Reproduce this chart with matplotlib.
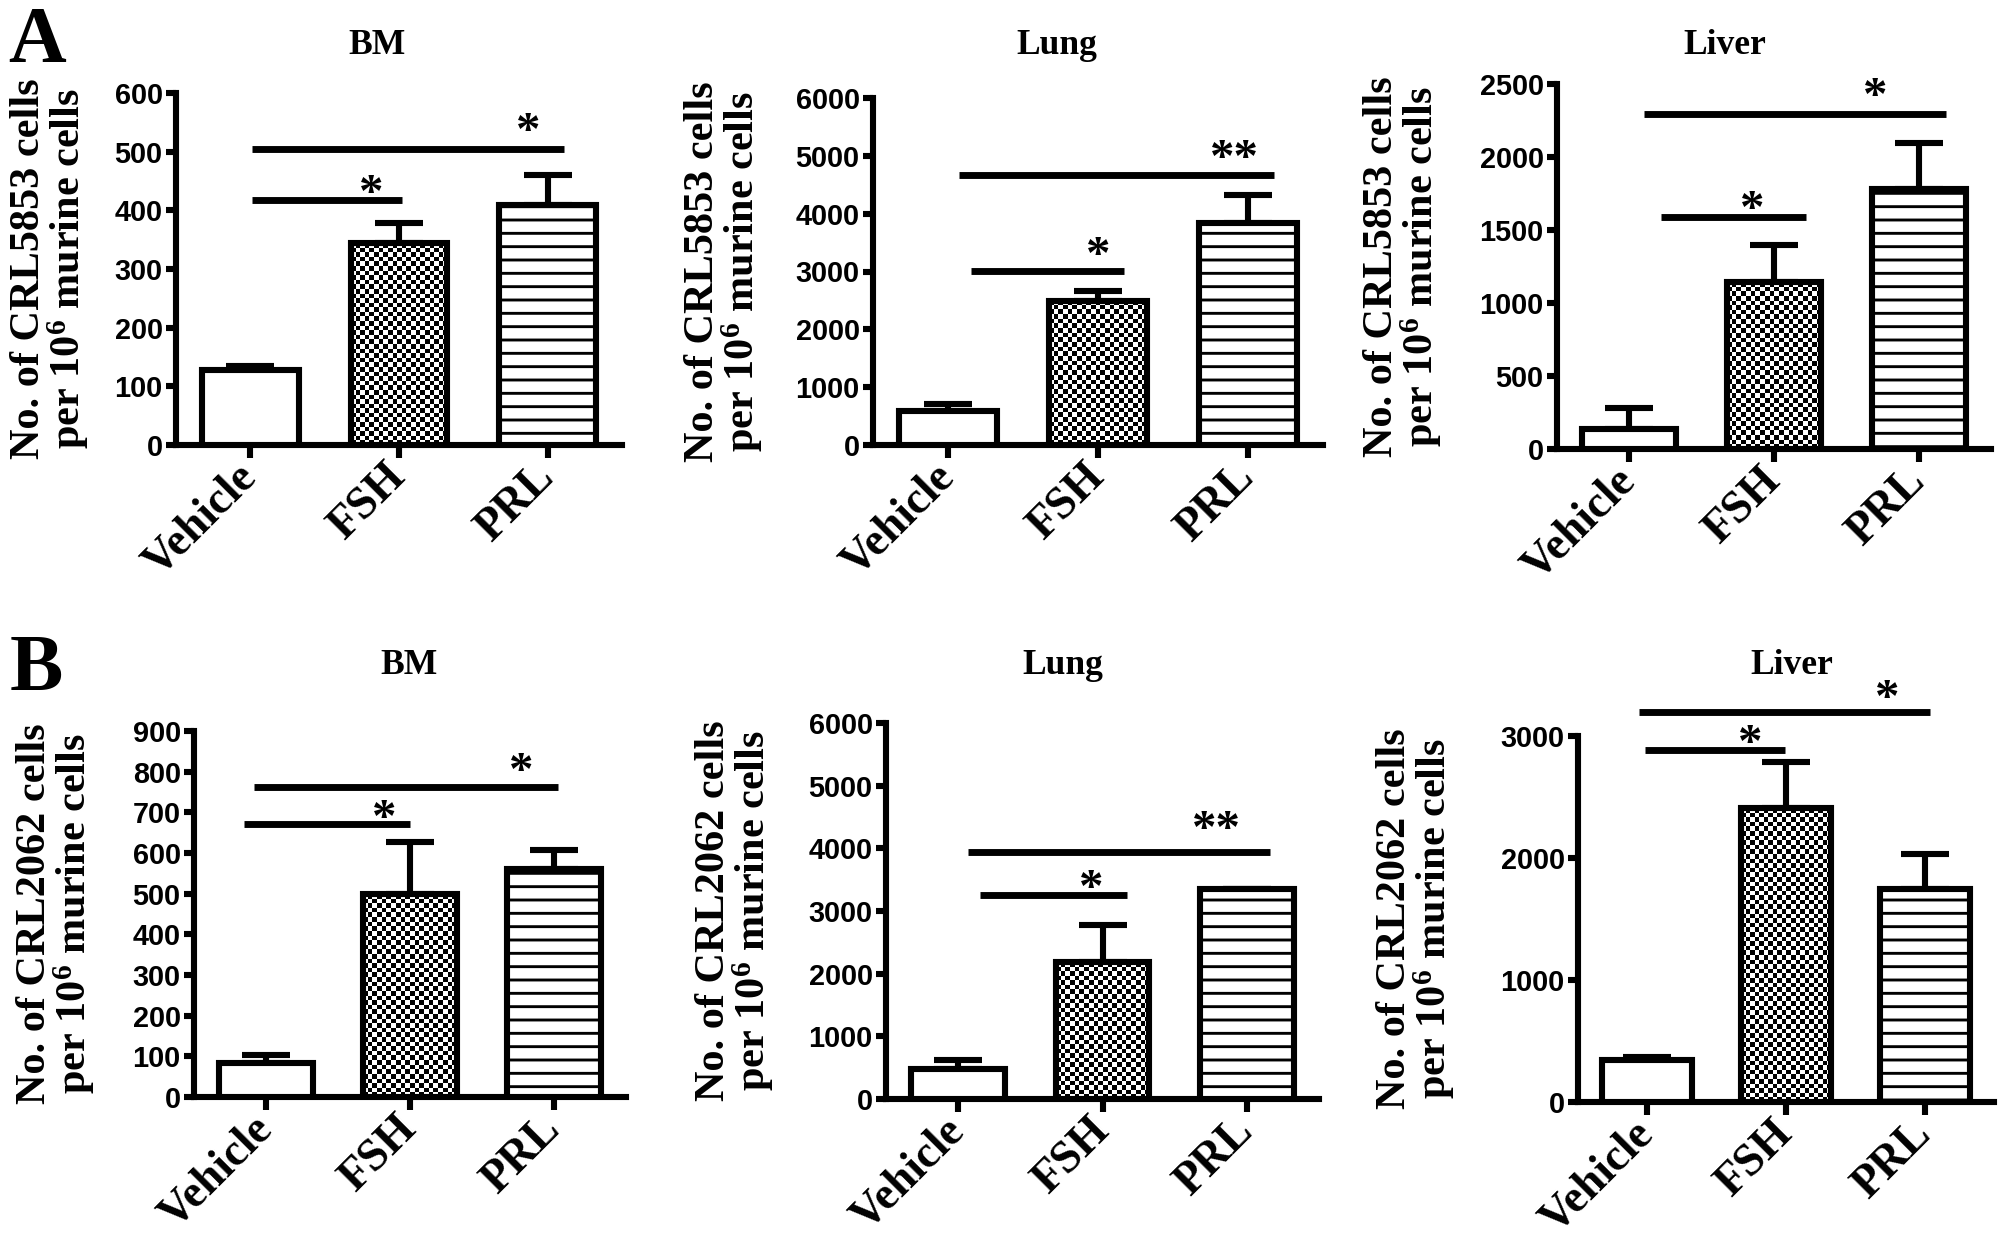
import numpy as np
import matplotlib
matplotlib.use('Agg')
import matplotlib.pyplot as plt

groups = ['Vehicle', 'FSH', 'PRL']

# panel A: CRL5853
a_bm_mean = [127, 344, 409]
a_bm_err = [7, 34, 52]
a_lung_mean = [587, 2493, 3846]
a_lung_err = [115, 173, 472]
a_liver_mean = [140, 1143, 1782]
a_liver_err = [142, 251, 317]

# panel B: CRL2062
b_bm_mean = [83, 499, 561]
b_bm_err = [20, 127, 46]
b_lung_mean = [476, 2183, 3352]
b_lung_err = [143, 588, 0]
b_liver_mean = [342, 2408, 1743]
b_liver_err = [26, 381, 288]

# significance bars: (x start, x end, y)
a_bm_sig = [(0.01, 1.02, 418), (0.01, 2.11, 505)]
a_lung_sig = [(0.15, 1.17, 3005), (0.07, 2.17, 4664)]
a_liver_sig = [(0.22, 1.22, 1589), (0.10, 2.19, 2297)]
b_bm_sig = [(-0.15, 1.00, 672), (-0.08, 2.03, 763)]
b_lung_sig = [(0.15, 1.17, 3260), (0.07, 2.16, 3946)]
b_liver_sig = [(-0.02, 0.99, 2885), (-0.06, 2.04, 3198)]

# stars: (x, y centre, text)
a_bm_stars = [(0.81, 446, '*'), (1.87, 551, '*')]
a_lung_stars = [(1.00, 3455, '*'), (1.91, 5125, '**')]
a_liver_stars = [(0.85, 1711, '*'), (1.70, 2481, '*')]
b_bm_stars = [(0.82, 710, '*'), (1.77, 825, '*')]
b_lung_stars = [(0.92, 3526, '*'), (1.79, 4454, '**')]
b_liver_stars = [(0.74, 3022, '*'), (1.73, 3390, '*')]

W, H, DPI = 2004, 1240, 80
plt.rcParams['font.family'] = ['Liberation Sans Narrow', 'Liberation Sans']
plt.rcParams['font.weight'] = 'bold'
plt.rcParams['mathtext.fontset'] = 'custom'
plt.rcParams['mathtext.rm'] = 'Liberation Serif:bold'
plt.rcParams['mathtext.bf'] = 'Liberation Serif:bold'
plt.rcParams['mathtext.it'] = 'Liberation Serif:bold'
plt.rcParams['mathtext.default'] = 'rm'
plt.rcParams['hatch.linewidth'] = 2.6
SERIF = 'Liberation Serif'
LW = 5.5
STAR = 44

fig = plt.figure(figsize=(W / DPI, H / DPI), dpi=DPI)


def panel(left, right, zero, top, means, errs, ymax, ystep, sig, stars):
    ax = fig.add_axes([left / W, 1 - zero / H, (right - left) / W, (zero - top) / H])
    x = np.arange(3)
    bars = ax.bar(x, means, width=0.65, facecolor='white', edgecolor='black',
                  linewidth=LW, zorder=3)
    bars[2].set_hatch('-')
    # checkerboard fill for FSH
    r = bars[1]
    bw_px = 0.65 * (right - left) / 3
    bh_px = means[1] / ymax * (zero - top)
    nx = max(1, int(round(bw_px / 4.6)))
    ny = max(1, int(round(bh_px / 4.6)))
    arr = np.indices((ny, nx)).sum(axis=0) % 2
    im = ax.imshow(arr, cmap='gray', extent=(r.get_x(), r.get_x() + r.get_width(), 0, r.get_height()),
                   origin='lower', interpolation='nearest', aspect='auto', zorder=2.9)
    im.set_clip_path(r)
    r.set_facecolor('none')
    ax.errorbar(x, means, yerr=[np.zeros(3), errs], fmt='none', ecolor='black',
                elinewidth=LW, capsize=22, capthick=LW, zorder=2)
    for x0, x1, y in sig:
        ax.plot([x0, x1], [y, y], color='black', lw=6.2, solid_capstyle='butt', clip_on=False)
    for sx, sy, s in stars:
        ax.annotate(s, (sx, sy), xytext=(0, -0.48 * STAR), textcoords='offset points',
                    ha='center', va='baseline', fontsize=STAR, family=SERIF,
                    fontweight='bold', annotation_clip=False)
    ax.set_xlim(-0.5, 2.5)
    ax.set_ylim(0, ymax)
    ax.set_yticks(np.arange(0, ymax + 1, ystep))
    ax.set_xticks(x, groups, rotation=45, ha='right', va='center', rotation_mode='anchor',
                  fontsize=41, family=SERIF, fontweight='bold')
    ax.tick_params(axis='y', direction='out', length=9, width=LW, labelsize=26, pad=3)
    ax.tick_params(axis='x', direction='out', length=12, width=LW, pad=11)
    for sp in ('top', 'right'):
        ax.spines[sp].set_visible(False)
    for sp in ('left', 'bottom'):
        ax.spines[sp].set_linewidth(LW)
    ax.patch.set_alpha(0)
    return ax


def ylabel(ax, line, label_x):
    ax.set_ylabel(line + '\nper 10$^{6}$ murine cells', fontsize=38, family=SERIF,
                  fontweight='bold', linespacing=0.92)
    ax.yaxis.set_label_coords(label_x, 0.5)


ax = panel(176, 622, 445, 93, a_bm_mean, a_bm_err, 600, 100, a_bm_sig, a_bm_stars)
ylabel(ax, 'No. of CRL5853 cells', -0.19)
ax = panel(873, 1323, 445, 98, a_lung_mean, a_lung_err, 6000, 1000, a_lung_sig, a_lung_stars)
ylabel(ax, 'No. of CRL5853 cells', -0.24)
ax = panel(1557, 1991, 449, 84, a_liver_mean, a_liver_err, 2500, 500, a_liver_sig, a_liver_stars)
ylabel(ax, 'No. of CRL5853 cells', -0.26)
ax = panel(194, 626, 1097, 731, b_bm_mean, b_bm_err, 900, 100, b_bm_sig, b_bm_stars)
ylabel(ax, 'No. of CRL2062 cells', -0.225)
ax = panel(886, 1319, 1099, 723, b_lung_mean, b_lung_err, 6000, 1000, b_lung_sig, b_lung_stars)
ylabel(ax, 'No. of CRL2062 cells', -0.254)
ax = panel(1578, 1994, 1102, 736, b_liver_mean, b_liver_err, 3000, 1000, b_liver_sig, b_liver_stars)
ylabel(ax, 'No. of CRL2062 cells', -0.29)

titles = [('BM', 377, 45), ('Lung', 1057, 45), ('Liver', 1725, 45),
          ('BM', 409, 665), ('Lung', 1063, 665), ('Liver', 1792, 665)]
for t, tx, ty in titles:
    fig.text(tx / W, 1 - ty / H, t, ha='center', va='center', fontsize=32,
             family=SERIF, fontweight='bold')

fig.text(37 / W, 1 - 43 / H, 'A', ha='center', va='center', fontsize=72, family=SERIF, fontweight='bold')
fig.text(36 / W, 1 - 671 / H, 'B', ha='center', va='center', fontsize=72, family=SERIF, fontweight='bold')

fig.savefig('out.png', dpi=DPI, facecolor='white')
